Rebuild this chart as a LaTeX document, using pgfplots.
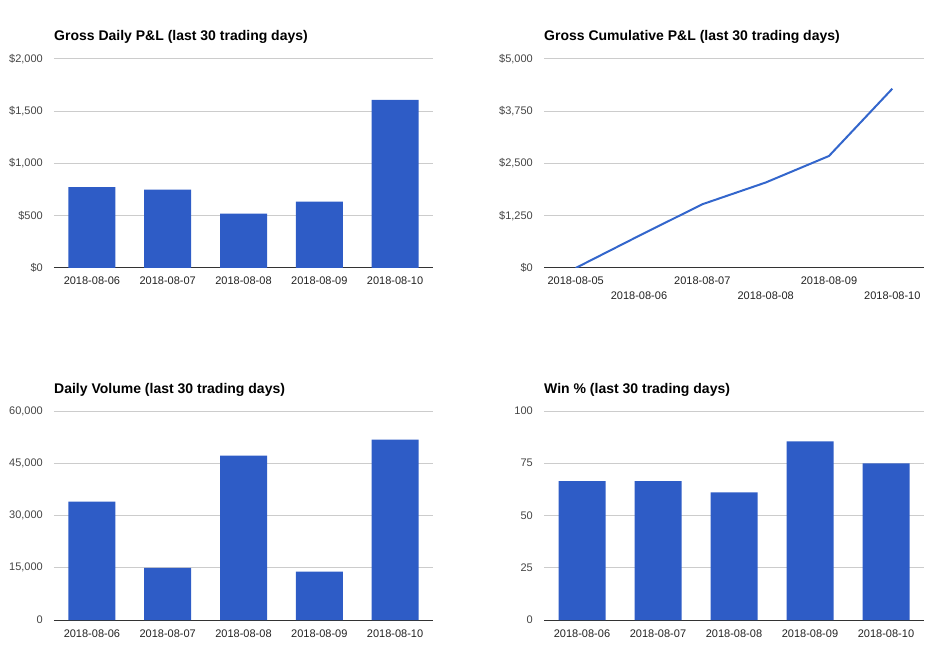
\documentclass[border=0pt]{standalone}
\usepackage{pgfplots}
\pgfplotsset{compat=1.18}
\usepackage{fontspec}
\setmainfont{Liberation Sans}
\definecolor{gblue}{RGB}{46,92,198}
\definecolor{lblue}{RGB}{51,102,204}
\definecolor{ggrid}{RGB}{204,204,204}
\definecolor{gaxis}{RGB}{51,51,51}
\definecolor{glabel}{RGB}{68,68,68}
\definecolor{gtick}{RGB}{34,34,34}
\pgfplotsset{
 gchart/.style={
  scale only axis, height=209pt, ymin=0,
  axis x line*=bottom, axis y line*=left,
  y axis line style={draw=none},
  x axis line style={draw=gaxis, line width=1pt},
  major tick length=0pt,
  scaled y ticks=false,
  ymajorgrids, grid style={draw=ggrid, line width=1pt},
  title style={at={(0,1)}, anchor=base west, yshift=12pt, inner sep=0pt, font=\bfseries\fontsize{14}{16}\selectfont, text=black},
  yticklabel style={anchor=east, inner sep=0pt, xshift=-11pt, font=\fontsize{11}{13}\selectfont, text=glabel},
  xticklabel style={anchor=base, inner sep=0pt, yshift=-17pt, font=\fontsize{11}{13}\selectfont, text=gtick},
 },
 gbar/.style={gchart, ybar, bar width=47pt, xmin=-0.5, xmax=4.5, xtick={0,1,2,3,4},
  xticklabels={2018-08-06,2018-08-07,2018-08-08,2018-08-09,2018-08-10}},
}
\begin{document}
\begin{tikzpicture}
\useasboundingbox (0,0) rectangle (943pt,657pt);
% Panel 1
\begin{axis}[gbar, width=379pt, at={(54pt,389pt)}, anchor=south west,
  title={Gross Daily P\&L (last 30 trading days)},
  ymax=2000, ytick={0,500,1000,1500,2000},
  yticklabels={\$0,\$500,{\$1,000},{\$1,500},{\$2,000}}]
\addplot[fill=gblue, draw=none] coordinates {(0,775)(1,750)(2,520)(3,635)(4,1610)};
\end{axis}
% Panel 2
\begin{axis}[gchart, width=380pt, at={(544pt,389pt)}, anchor=south west,
  title={Gross Cumulative P\&L (last 30 trading days)},
  xmin=-0.5, xmax=5.5, xtick={0,1,2,3,4,5},
  xticklabels={2018-08-05,\raisebox{-14pt}{2018-08-06},2018-08-07,\raisebox{-14pt}{2018-08-08},2018-08-09,\raisebox{-14pt}{2018-08-10}},
  ymax=5000, ytick={0,1250,2500,3750,5000},
  yticklabels={\$0,{\$1,250},{\$2,500},{\$3,750},{\$5,000}}]
\addplot[lblue, line width=2pt] coordinates {(0,0)(1,770)(2,1525)(3,2045)(4,2680)(5,4290)};
\end{axis}
% Panel 3
\begin{axis}[gbar, width=379pt, at={(54pt,37pt)}, anchor=south west,
  title={Daily Volume (last 30 trading days)},
  ymax=60000, ytick={0,15000,30000,45000,60000},
  yticklabels={0,{15,000},{30,000},{45,000},{60,000}}]
\addplot[fill=gblue, draw=none] coordinates {(0,34000)(1,15000)(2,47200)(3,13900)(4,51800)};
\end{axis}
% Panel 4
\begin{axis}[gbar, width=380pt, at={(544pt,37pt)}, anchor=south west,
  title={Win \% (last 30 trading days)},
  ymax=100, ytick={0,25,50,75,100},
  yticklabels={0,25,50,75,100}]
\addplot[fill=gblue, draw=none] coordinates {(0,66.5)(1,66.5)(2,61.1)(3,85.5)(4,75)};
\end{axis}
\end{tikzpicture}
\end{document}
